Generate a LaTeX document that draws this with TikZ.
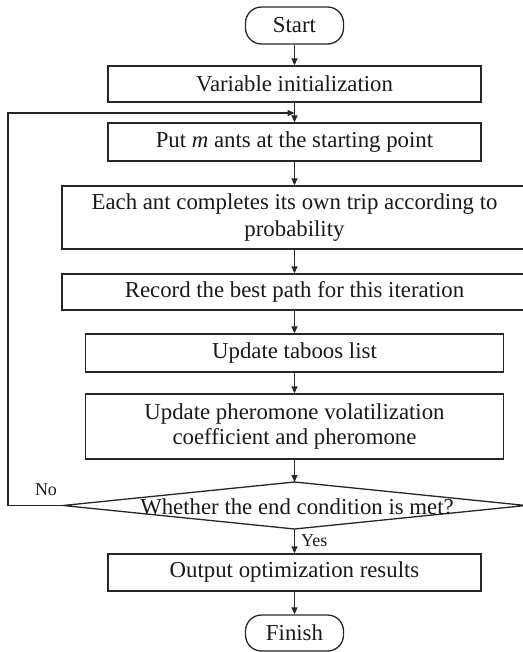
\documentclass[tikz,border=0pt]{standalone}
\usepackage{fontspec}
\setmainfont{Liberation Serif}
\usetikzlibrary{arrows.meta}
\begin{document}
\begin{tikzpicture}[x=1pt,y=-1pt,
  line/.style={draw=black!85, line width=1.3pt},
  txt/.style={font=\fontsize{22.8}{27.5}\selectfont, text=black!90},
  box/.style={line, txt, rectangle, inner sep=0pt, align=center},
  term/.style={box, rounded corners=16pt, minimum width=98pt},
  arr/.style={line, -{Triangle[length=7pt,width=6pt]}},
  lbl/.style={font=\fontsize{18}{20}\selectfont, text=black!90, inner sep=0pt}]
\useasboundingbox (0,0) rectangle (522,652);

% process chain
\node[term, minimum height=37pt] (start) at (294.5,25.5) {Start};
\node[box, minimum width=373pt, minimum height=36pt] (init) at (294.5,84) {Variable initialization};
\node[box, minimum width=373pt, minimum height=38pt] (put) at (294.5,142) {Put \textit{m} ants at the starting point};
\node[box, minimum width=465pt, minimum height=63pt] (each) at (294.5,217.5) {Each ant completes its own trip according to\\probability};
\node[box, minimum width=465pt, minimum height=36pt] (rec) at (294.5,292) {Record the best path for this iteration};
\node[box, minimum width=418pt, minimum height=38pt] (tab) at (294.5,353) {Update taboos list};
\node[box, minimum width=418pt, minimum height=65pt, font=\fontsize{22.8}{25}\selectfont] (pher) at (294.5,426.5) {Update pheromone volatilization\\coefficient and pheromone};

% decision
\coordinate (dT) at (294.5,482);
\coordinate (dR) at (526,505.5);
\coordinate (dB) at (294.5,529);
\coordinate (dL) at (63,505.5);
\draw[line] (dT) -- (dR) -- (dB) -- (dL) -- cycle;
\node[txt, inner sep=0pt] (dec) at (297,507) {Whether the end condition is met?};

\node[box, minimum width=373pt, minimum height=37pt] (out) at (294.5,572.5) {Output optimization results};
\node[term, minimum height=36pt] (fin) at (294.5,633) {Finish};

% connectors
\draw[arr] (start.south) -- (init.north);
\draw[arr] (init.south) -- (put.north);
\draw[arr] (put.south) -- (each.north);
\draw[arr] (each.south) -- (rec.north);
\draw[arr] (rec.south) -- (tab.north);
\draw[arr] (tab.south) -- (pher.north);
\draw[arr] (pher.south) -- (dT);
\draw[arr] (dB) -- (out.north);
\draw[arr] (out.south) -- (fin.north);

% loop back when the condition fails
\coordinate (loopL) at (8,113);
\coordinate (merge) at (294.5,113);
\draw[arr] (dL) -| (loopL) -- (merge);

\node[lbl] (no) at (46,490) {No};
\node[lbl, anchor=west] (yes) at (301,541) {Yes};
\end{tikzpicture}
\end{document}
